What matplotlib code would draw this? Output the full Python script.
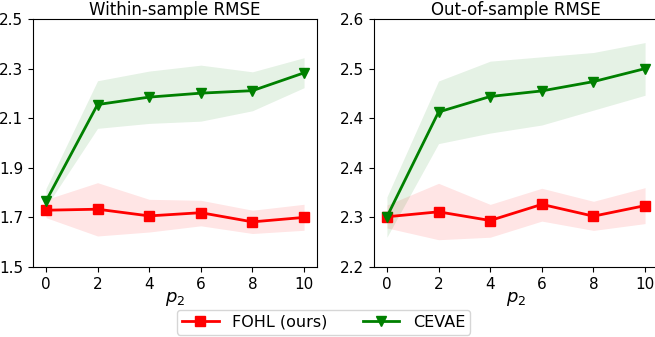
import numpy as np
import matplotlib
matplotlib.use('Agg')
import matplotlib.pyplot as plt
from matplotlib.ticker import FormatStrFormatter

p2 = [0, 2, 4, 6, 8, 10]

# within-sample RMSE
fohl_in = [1.729, 1.733, 1.706, 1.719, 1.682, 1.700]
fohl_in_lo = [1.699, 1.625, 1.641, 1.666, 1.635, 1.648]
fohl_in_hi = [1.772, 1.840, 1.773, 1.769, 1.729, 1.753]
cevae_in = [1.765, 2.155, 2.185, 2.201, 2.211, 2.283]
cevae_in_lo = [1.742, 2.059, 2.079, 2.088, 2.130, 2.223]
cevae_in_hi = [1.816, 2.251, 2.290, 2.314, 2.287, 2.344]

# out-of-sample RMSE
fohl_out = [2.281, 2.289, 2.275, 2.301, 2.282, 2.299]
fohl_out_lo = [2.263, 2.244, 2.248, 2.274, 2.259, 2.270]
fohl_out_hi = [2.300, 2.335, 2.301, 2.327, 2.306, 2.328]
cevae_out = [2.281, 2.450, 2.475, 2.484, 2.499, 2.520]
cevae_out_lo = [2.248, 2.399, 2.416, 2.429, 2.453, 2.477]
cevae_out_hi = [2.313, 2.500, 2.532, 2.539, 2.546, 2.562]

titles = ['Within-sample RMSE', 'Out-of-sample RMSE']
ylims = [(1.5, 2.5), (2.2, 2.6)]

fig = plt.figure(figsize=(6.55, 3.37), dpi=100)
ax1 = fig.add_axes([33 / 655, 70 / 337, 284 / 655, 248 / 337])
ax2 = fig.add_axes([374 / 655, 70 / 337, 284 / 655, 248 / 337])
axes = [ax1, ax2]
panels = [
    (fohl_in, fohl_in_lo, fohl_in_hi, cevae_in, cevae_in_lo, cevae_in_hi),
    (fohl_out, fohl_out_lo, fohl_out_hi, cevae_out, cevae_out_lo, cevae_out_hi),
]

for ax, data, title, yl in zip(axes, panels, titles, ylims):
    f, flo, fhi, c, clo, chi = data
    ax.fill_between(p2, flo, fhi, color='red', alpha=0.1, linewidth=0)
    ax.fill_between(p2, clo, chi, color='green', alpha=0.1, linewidth=0)
    ax.plot(p2, f, color='red', marker='s', markersize=6.5, linewidth=2, label='FOHL (ours)')
    ax.plot(p2, c, color='green', marker='v', markersize=6.5, linewidth=2, label='CEVAE')
    ax.set_ylim(*yl)
    ax.set_yticks(np.linspace(yl[0], yl[1], 6))
    ax.yaxis.set_major_formatter(FormatStrFormatter('%.1f'))
    ax.set_xticks(p2)
    ax.set_title(title, fontsize=12, pad=2)
    ax.set_xlabel('$p_2$', fontsize=13, labelpad=-1.5)
    ax.tick_params(labelsize=11)

handles, labels = ax1.get_legend_handles_labels()
fig.legend(handles, labels, loc='lower center', ncol=2, fontsize=11.5,
           bbox_to_anchor=(0.494, 0.0), borderaxespad=0.15, borderpad=0.3,
           columnspacing=2.2, handlelength=2.3, handletextpad=0.85)

fig.savefig('out.png')
